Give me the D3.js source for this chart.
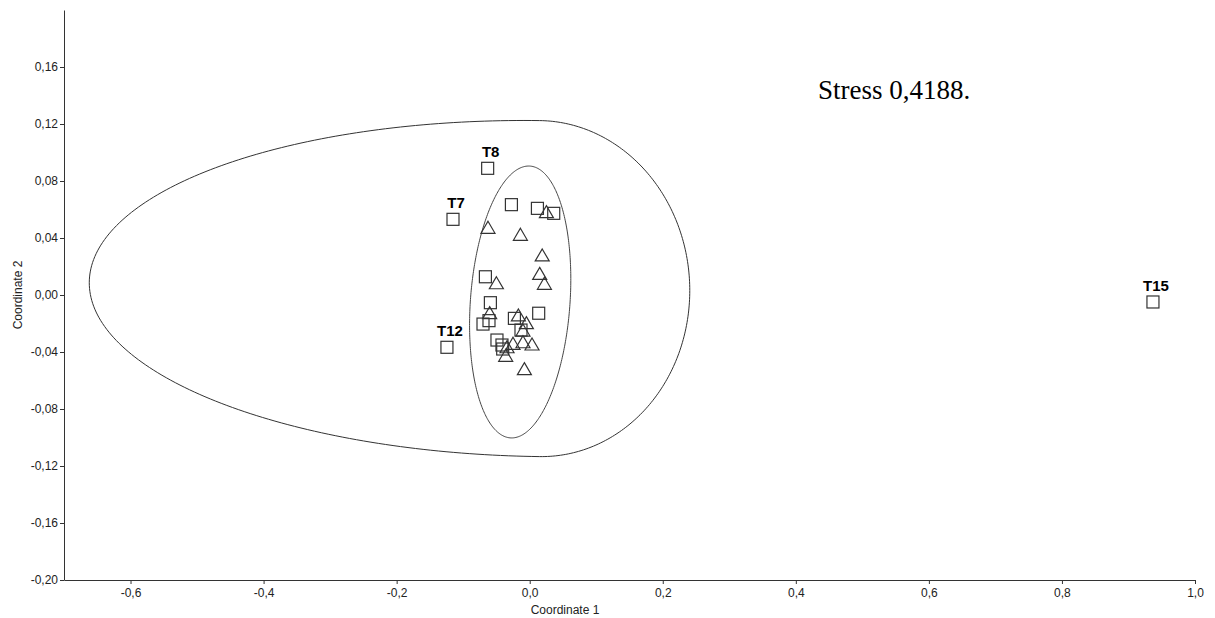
<!DOCTYPE html>
<html>
<head>
<meta charset="utf-8">
<script src="https://cdn.jsdelivr.net/npm/d3@7"></script>
<style>
body { margin: 0; background: #fff; }
svg { display: block; }
</style>
</head>
<body>
<svg id="chart" width="1215" height="618"></svg>
<script>
// axis ticks
var xTicks = [-0.6, -0.4, -0.2, 0.0, 0.2, 0.4, 0.6, 0.8, 1.0];
var yTicks = [-0.20, -0.16, -0.12, -0.08, -0.04, 0.00, 0.04, 0.08, 0.12, 0.16];

// group 1 (squares)
var squareX = [-0.0632, -0.1153, -0.1244, 0.9368, -0.0275, 0.0116, 0.0361, -0.0666, -0.0591, -0.0612, -0.0702, -0.0230, 0.0135, -0.0492, -0.0417, -0.0406, -0.0131];
var squareY = [0.0889, 0.0531, -0.0367, -0.0049, 0.0634, 0.0608, 0.0573, 0.0128, -0.0054, -0.0180, -0.0204, -0.0164, -0.0128, -0.0316, -0.0351, -0.0379, -0.0246];
var squareLabel = ["T8", "T7", "T12", "T15", "", "", "", "", "", "", "", "", "", "", "", "", ""];

// group 2 (triangles)
var triX = [-0.0627, -0.0140, 0.0188, 0.0251, 0.0150, 0.0221, -0.0501, -0.0602, -0.0170, -0.0050, -0.0101, -0.0251, -0.0101, 0.0035, -0.0341, -0.0361, -0.0080];
var triY = [0.0475, 0.0426, 0.0281, 0.0585, 0.0152, 0.0082, 0.0086, -0.0124, -0.0140, -0.0194, -0.0246, -0.0339, -0.0328, -0.0344, -0.0363, -0.0423, -0.0517];

// 95% ellipses (data units)
var bigEllipse = { cx: 0.015, cy: 0.0045, rxLeft: 0.677, rxRight: 0.2256, ry: 0.1179, slope: -0.006 };
var smallEllipse = { cx: -0.0143, cy: -0.0049, ux: 0.0128, uy: 0.0954, vx: 0.075, vy: 0 };

var stressText = "Stress 0,4188.";

var svg = d3.select("#chart");

var x = d3.scaleLinear().domain([-0.7, 1.0]).range([64, 1195]);
var y = d3.scaleLinear().domain([-0.20, 0.20]).range([580, 10]);

function comma(fmt) {
    var f = d3.format(fmt);
    return function(v) { return f(v).replace(".", ",").replace("\u2212", "-"); };
}

// axes
var gx = svg.append("g")
    .attr("transform", "translate(0,580)")
    .call(d3.axisBottom(x).tickValues(xTicks).tickSize(4).tickSizeOuter(0).tickFormat(comma(".1f")));
var gy = svg.append("g")
    .attr("transform", "translate(64,0)")
    .call(d3.axisLeft(y).tickValues(yTicks).tickSize(4).tickSizeOuter(0).tickFormat(comma(".2f")));

[gx, gy].forEach(function(g) {
    g.select(".domain").attr("stroke", "#333");
    g.selectAll(".tick line").attr("stroke", "#333");
    g.selectAll(".tick text")
        .attr("fill", "#222")
        .style("font-family", "Liberation Sans, Arial, sans-serif")
        .style("font-size", "12px");
});
gx.selectAll(".tick text").attr("dy", "0.85em");
gy.selectAll(".tick text").attr("x", -6);

svg.append("text")
    .attr("x", 565).attr("y", 614)
    .attr("text-anchor", "middle")
    .style("font-family", "Liberation Sans, Arial, sans-serif")
    .style("font-size", "12px")
    .attr("fill", "#222")
    .text("Coordinate 1");

svg.append("text")
    .attr("transform", "translate(22,295) rotate(-90)")
    .attr("text-anchor", "middle")
    .style("font-family", "Liberation Sans, Arial, sans-serif")
    .style("font-size", "12px")
    .attr("fill", "#222")
    .text("Coordinate 2");

// ellipses
var ts = d3.range(0, 361, 1).map(function(d) { return d * Math.PI / 180; });
var line = d3.line().x(function(d) { return x(d[0]); }).y(function(d) { return y(d[1]); }).curve(d3.curveLinearClosed);

var bigPts = ts.map(function(t) {
    var e = bigEllipse;
    var c = Math.cos(t);
    var dx = (c < 0 ? e.rxLeft : e.rxRight) * c;
    return [e.cx + dx, e.cy + e.ry * Math.sin(t) + e.slope * dx];
});
var smallPts = ts.map(function(t) {
    var e = smallEllipse;
    return [e.cx + e.ux * Math.sin(t) + e.vx * Math.cos(t), e.cy + e.uy * Math.sin(t) + e.vy * Math.cos(t)];
});

svg.append("path").attr("d", line(bigPts)).attr("fill", "none").attr("stroke", "#333").attr("stroke-width", 1);
svg.append("path").attr("d", line(smallPts)).attr("fill", "none").attr("stroke", "#444").attr("stroke-width", 1);

// markers
var squares = squareX.map(function(v, i) { return { x: v, y: squareY[i], label: squareLabel[i] }; });
var tris = triX.map(function(v, i) { return { x: v, y: triY[i] }; });

var S = 12;
svg.selectAll("rect.sq")
    .data(squares)
    .enter()
    .append("rect")
    .attr("class", "sq")
    .attr("x", function(d) { return x(d.x) - S / 2; })
    .attr("y", function(d) { return y(d.y) - S / 2; })
    .attr("width", S)
    .attr("height", S)
    .attr("fill", "none")
    .attr("stroke", "#333")
    .attr("stroke-width", 1.2);

var tw = 14, th = 12;
svg.selectAll("path.tri")
    .data(tris)
    .enter()
    .append("path")
    .attr("class", "tri")
    .attr("d", function(d) {
        var cx = x(d.x), cy = y(d.y);
        return "M" + cx + "," + (cy - th / 2) + "L" + (cx + tw / 2) + "," + (cy + th / 2) + "L" + (cx - tw / 2) + "," + (cy + th / 2) + "Z";
    })
    .attr("fill", "none")
    .attr("stroke", "#333")
    .attr("stroke-width", 1.2);

svg.selectAll("text.lbl")
    .data(squares.filter(function(d) { return d.label; }))
    .enter()
    .append("text")
    .attr("class", "lbl")
    .attr("x", function(d) { return x(d.x) + 3; })
    .attr("y", function(d) { return y(d.y) - 11; })
    .attr("text-anchor", "middle")
    .style("font-family", "Liberation Sans, Arial, sans-serif")
    .style("font-size", "15px")
    .style("font-weight", "bold")
    .attr("fill", "#000")
    .text(function(d) { return d.label; });

svg.append("text")
    .attr("x", 818).attr("y", 99)
    .style("font-family", "Liberation Serif, Times New Roman, serif")
    .style("font-size", "27px")
    .attr("fill", "#000")
    .text(stressText);
</script>
</body>
</html>
